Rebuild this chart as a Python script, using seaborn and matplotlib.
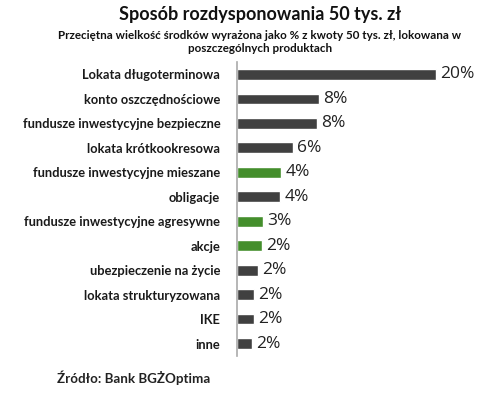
import numpy as np
import pandas as pd
import seaborn as sns
import matplotlib.pyplot as plt

categories = ['Lokata długoterminowa', 'konto oszczędnościowe',
              'fundusze inwestycyjne bezpieczne', 'lokata krótkookresowa',
              'fundusze inwestycyjne mieszane', 'obligacje',
              'fundusze inwestycyjne agresywne', 'akcje',
              'ubezpieczenie na życie', 'lokata strukturyzowana', 'IKE', 'inne']
values = [20.1, 8.3, 8.1, 5.7, 4.5, 4.4, 2.6, 2.5, 2.1, 1.7, 1.7, 1.5]
labels = ['20%', '8%', '8%', '6%', '4%', '4%', '3%', '2%', '2%', '2%', '2%', '2%']
green = ['fundusze inwestycyjne mieszane', 'fundusze inwestycyjne agresywne', 'akcje']

df = pd.DataFrame({'cat': categories, 'val': values})
palette = {c: ('#3c9e1c' if c in green else '#404040') for c in categories}

sns.set_style('white')
plt.rcParams['font.family'] = ['Lato', 'DejaVu Sans']

fig = plt.figure(figsize=(5, 3.94), dpi=100)
ax = fig.add_axes([0.474, 0.097, 0.50, 0.745])
sns.barplot(data=df, x='val', y='cat', hue='cat', palette=palette,
            order=categories, width=0.44, legend=False, ax=ax)

for cont, lab in zip(ax.containers, labels):
    ax.bar_label(cont, labels=[lab], padding=3, fontsize=12.5, color='#222222',
                 family=['Open Sans', 'DejaVu Sans'])

ax.set_xlim(0, 25.3)
ax.set_xticks([])
ax.set_xlabel('')
ax.set_ylabel('')
for s in ['top', 'right', 'bottom']:
    ax.spines[s].set_visible(False)
ax.spines['left'].set_color('#aaaaaa')
ax.spines['left'].set_linewidth(1.2)
ax.tick_params(axis='y', length=0, pad=12)
for t in ax.get_yticklabels():
    t.set_fontweight('bold')
    t.set_fontsize(9.3)
    t.set_color('#1a1a1a')

fig.text(0.52, 0.962, 'Sposób rozdysponowania 50 tys. zł', ha='center', va='center',
         fontsize=13, fontweight='bold', color='#111111')
fig.text(0.52, 0.893, 'Przeciętna wielkość środków wyrażona jako % z kwoty 50 tys. zł, lokowana w\nposzczególnych produktach',
         ha='center', va='center', fontsize=8.4, fontweight='bold', color='#111111',
         linespacing=1.2)
fig.text(0.114, 0.04, 'Źródło: Bank BGŻOptima', ha='left', va='center',
         fontsize=9.6, fontweight='bold', color='#222222')

fig.savefig('out.png', dpi=100)
